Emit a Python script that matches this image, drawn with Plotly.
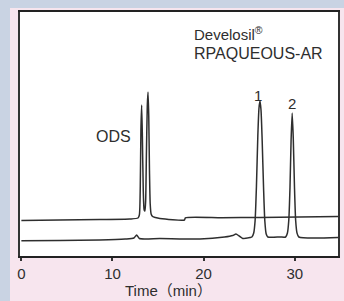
import plotly.graph_objects as go

# ---- data (time in min, detector signal in arbitrary units) ----
ods_time = [0.0, 4.2, 8.6, 11.9, 12.8, 12.95, 13.05, 13.12, 13.2, 13.28, 13.38, 13.48, 13.56,
            13.64, 13.72, 13.82, 13.9, 13.98, 14.06, 14.14, 14.24, 14.4, 14.7, 15.2, 17.9,
            18.0, 22.0, 26.2, 30.5, 34.75]
ods_signal = [35.5, 36.0, 36.5, 37.0, 38.0, 41.0, 70.0, 125.0, 151.0, 120.0, 65.0, 46.0, 45.0,
              55.0, 100.0, 150.0, 164.0, 140.0, 85.0, 52.0, 42.0, 39.5, 38.5, 37.5, 36.0,
              38.2, 38.3, 38.5, 39.0, 39.5]

rp_time = [0.0, 4.2, 8.6, 11.4, 12.35, 12.65, 12.95, 15.2, 19.6, 22.3, 23.2, 23.55, 23.9, 24.3,
           25.1, 25.3, 25.5, 25.65, 25.8, 25.95, 26.08, 26.19, 26.3, 26.43, 26.58, 26.72, 26.87,
           27.05, 28.4, 29.0, 29.2, 29.35, 29.48, 29.6, 29.72, 29.84, 29.97, 30.1, 30.25, 30.45,
           34.75]
rp_signal = [15.3, 15.5, 16.0, 17.0, 18.0, 21.0, 17.5, 17.5, 17.0, 19.0, 20.5, 22.0, 20.0, 17.5,
             18.5, 19.0, 23.0, 35.0, 70.0, 120.0, 148.0, 155.0, 146.0, 115.0, 68.0, 35.0, 22.0,
             19.0, 19.0, 19.0, 23.0, 36.0, 68.0, 115.0, 143.0, 118.0, 70.0, 36.0, 23.0, 19.0,
             18.5]

tick_vals = [0, 10, 20, 30]
tick_text = ["0", "10", "20", "30"]

FONT = "Liberation Sans, Arial, Noto Sans CJK JP, sans-serif"
INK = "#2e2e2e"
OUTER = "#c9d3e3"

fig = go.Figure()
fig.add_trace(go.Scatter(x=ods_time, y=ods_signal, mode="lines",
                         line=dict(color=INK, width=1.5, shape="spline", smoothing=0.6),
                         hoverinfo="skip", showlegend=False))
fig.add_trace(go.Scatter(x=rp_time, y=rp_signal, mode="lines",
                         line=dict(color=INK, width=1.5, shape="spline", smoothing=0.6),
                         hoverinfo="skip", showlegend=False))

W, H = 344, 301
L, R, T, B = 20, 6, 12, 45
pw, ph = W - L - R, H - T - B


def px_x(p):
    return (p - L) / pw


def px_y(p):
    return (H - B - p) / ph


shapes = [
    dict(type="rect", xref="paper", yref="paper", x0=px_x(10), x1=px_x(346), y0=px_y(303), y1=px_y(8),
         fillcolor="#f7e5ee", line=dict(width=0), layer="below"),
    dict(type="rect", xref="paper", yref="paper", x0=0, x1=1, y0=0, y1=1,
         fillcolor="white", line=dict(width=0), layer="below"),
]

annotations = [
    dict(x=10.16, y=120, xref="x", yref="y", text="ODS", showarrow=False,
         font=dict(family=FONT, size=16, color=INK), xanchor="center", yanchor="middle"),
    dict(x=25.96, y=161, xref="x", yref="y", text="1", showarrow=False,
         font=dict(family=FONT, size=15, color=INK), xanchor="center", yanchor="middle"),
    dict(x=29.7, y=153, xref="x", yref="y", text="2", showarrow=False,
         font=dict(family=FONT, size=15, color=INK), xanchor="center", yanchor="middle"),
    dict(x=18.7, y=223, xref="x", yref="y", text="Develosil<sup>®</sup>", showarrow=False,
         font=dict(family=FONT, size=15, color=INK), xanchor="left", yanchor="middle"),
    dict(x=18.7, y=203, xref="x", yref="y", text="RPAQUEOUS-AR", showarrow=False,
         font=dict(family=FONT, size=16, color=INK), xanchor="left", yanchor="middle"),
    dict(x=16.1, y=px_y(290), xref="x", yref="paper", text="Time（min）", showarrow=False,
         font=dict(family=FONT, size=15, color=INK), xanchor="center", yanchor="middle"),
]

fig.update_layout(
    width=W, height=H,
    margin=dict(l=L, r=R, t=T, b=B, pad=0),
    paper_bgcolor=OUTER,
    plot_bgcolor="white",
    shapes=shapes,
    annotations=annotations,
    xaxis=dict(range=[-0.15, 34.75], tickvals=tick_vals, ticktext=tick_text,
               showgrid=False, zeroline=False, showline=True, linecolor="#222", linewidth=2,
               mirror=True, ticks="outside", ticklen=3, tickwidth=1.5, tickcolor="#333",
               tickfont=dict(family=FONT, size=15, color=INK), fixedrange=True,
               automargin=False),
    yaxis=dict(range=[0, 244], showticklabels=False, ticks="", showgrid=False,
               zeroline=False, showline=True, linecolor="#333", linewidth=1.5, mirror=True,
               fixedrange=True, automargin=False),
)

post = ("document.body.style.margin='0';document.body.style.padding='0';"
        "document.body.style.background='%s';document.documentElement.style.background='%s';"
        "document.body.style.overflow='hidden';" % (OUTER, OUTER))

fig.write_html("out.html", post_script=post, config={"displayModeBar": False})
